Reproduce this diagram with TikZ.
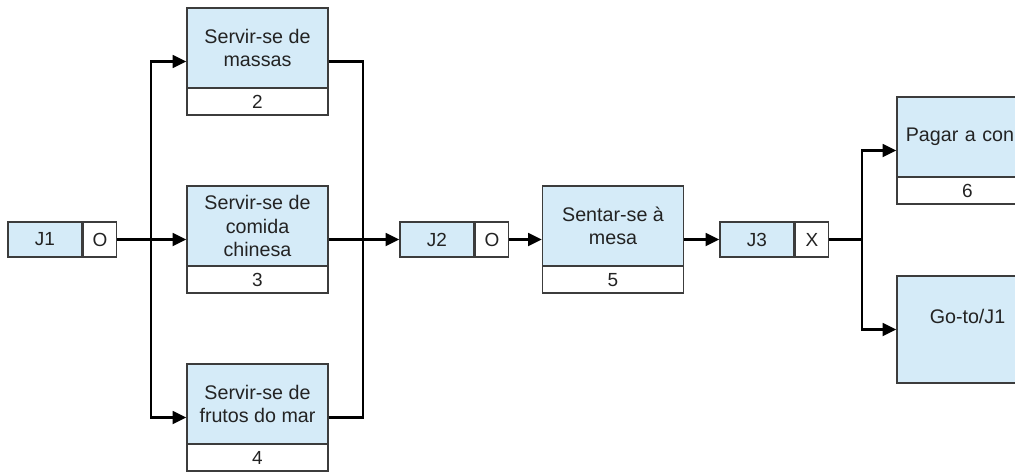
\documentclass[tikz,border=0pt]{standalone}
\usepackage{fontspec}
\setmainfont{Liberation Sans}
\usepackage{tikz}
\usetikzlibrary{arrows.meta,positioning,calc}
\usepackage{xcolor}
\definecolor{taskblue}{RGB}{213,235,248}
\definecolor{edgegray}{RGB}{60,60,60}
\definecolor{inkgray}{RGB}{35,35,35}

\begin{document}
\begin{tikzpicture}[
    task/.style={rectangle, draw=edgegray, line width=1pt, fill=white,
                 minimum width=3.525cm, minimum height=2.675cm, inner sep=0pt},
    taskhead/.style={rectangle, draw=edgegray, line width=1pt, fill=taskblue,
                 minimum width=3.525cm, minimum height=2.0cm, inner sep=0pt,
                 align=center, text=inkgray, font=\fontsize{14pt}{16.4pt}\selectfont},
    tasknum/.style={rectangle, minimum width=3.525cm, minimum height=0.675cm,
                 inner sep=0pt, text=inkgray, font=\fontsize{13.5pt}{15pt}\selectfont},
    jname/.style={rectangle, draw=edgegray, line width=1pt, fill=taskblue,
                 minimum width=1.85cm, minimum height=0.875cm, inner sep=0pt,
                 text=inkgray, font=\fontsize{13.5pt}{15pt}\selectfont},
    jtype/.style={jname, fill=white, minimum width=0.825cm},
    line/.style={line width=1.7pt, black},
    arrow/.style={line, -{Triangle[length=0.34cm,width=0.32cm]}}
]
\useasboundingbox (0,0) rectangle (25.375,-11.8);

% junction J1 and the three parallel choices
\node[jname] (j1n) at (1.125,-5.9875) {J1};
\node[jtype, right=0pt of j1n] (j1t) {O};

\node[task] (t2) at (6.4375,-1.5375) {};
\node[taskhead, below=0pt of t2.north] (t2h) {Servir-se de\\massas};
\node[tasknum, above=0pt of t2.south] (t2n) {2};

\node[task] (t3) at (6.4375,-5.9875) {};
\node[taskhead, below=0pt of t3.north] (t3h) {Servir-se de\\comida\\chinesa};
\node[tasknum, above=0pt of t3.south] (t3n) {3};

\node[task] (t4) at (6.4375,-10.4375) {};
\node[taskhead, below=0pt of t4.north] (t4h) {Servir-se de\\frutos do mar};
\node[tasknum, above=0pt of t4.south] (t4n) {4};

% junction J2 and the table
\node[jname] (j2n) at (10.925,-5.9875) {J2};
\node[jtype, right=0pt of j2n] (j2t) {O};

\node[task] (t5) at (15.325,-5.9875) {};
\node[taskhead, below=0pt of t5.north] (t5h) {Sentar-se à\\mesa};
\node[tasknum, above=0pt of t5.south] (t5n) {5};

% junction J3 and the two exits
\node[jname] (j3n) at (18.925,-5.9875) {J3};
\node[jtype, right=0pt of j3n] (j3t) {X};

\node[task] (t6) at (24.1875,-3.7625) {};
\node[taskhead, below=0pt of t6.north, align=left, text width=3.085cm,
      inner xsep=0.22cm] (t6h) {Pagar a con};
\node[tasknum, above=0pt of t6.south] (t6n) {6};

\node[task, fill=taskblue] (t7) at (24.1875,-8.2375) {};
\node[taskhead, draw=none, fill=none, below=0pt of t7.north] (t7h) {Go-to/J1};

% branch and merge points
\coordinate (fork1) at (3.775,-5.9875);
\coordinate (merge1) at (9.075,-5.9875);
\coordinate (fork3) at (21.55,-5.9875);

\draw[arrow] (j1t) -- (t3);
\draw[arrow] (fork1) |- (t2.west);
\draw[arrow] (fork1) |- (t4.west);

\draw[line] (t2.east) -| (merge1);
\draw[line] (t4.east) -| (merge1);
\draw[arrow] (t3) -- (j2n);

\draw[arrow] (j2t) -- (t5);
\draw[arrow] (t5) -- (j3n);

\draw[line] (j3t) -- (fork3);
\draw[arrow] (fork3) |- (t6.west);
\draw[arrow] (fork3) |- (t7.west);
\end{tikzpicture}
\end{document}
